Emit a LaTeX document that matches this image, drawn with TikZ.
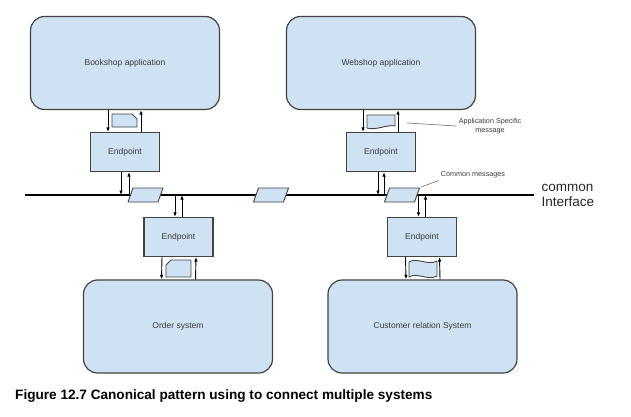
\documentclass[tikz,border=0pt]{standalone}
\usepackage{fontspec}
\setmainfont{Liberation Sans}
\usetikzlibrary{arrows.meta,positioning}
\definecolor{boxblue}{HTML}{CFE2F3}
\definecolor{boxline}{HTML}{434343}
\definecolor{txtgray}{HTML}{3A3A3A}

\begin{document}
\begin{tikzpicture}[x=1pt,y=-1pt,
                    >={Latex[length=4.5pt,width=3.5pt]},
                    app/.style={draw=boxline, line width=1.2pt, fill=boxblue, rounded corners=14pt,
                                minimum width=189pt, minimum height=93pt, text=txtgray,
                                font=\fontsize{8.5}{10}\selectfont},
                    endpt/.style={draw=boxline, line width=1.1pt, fill=boxblue,
                                  minimum width=69pt, minimum height=39pt, text=txtgray,
                                  font=\fontsize{8.5}{10}\selectfont},
                    flow/.style={->, line width=0.9pt, black},
                    msg/.style={draw=boxline, line width=0.9pt, fill=boxblue, line join=round},
                    bus/.style={line width=2.2pt, black},
                    note/.style={text=txtgray, align=center, inner sep=2pt,
                                 font=\fontsize{7.2}{9}\selectfont},
                    leader/.style={gray, line width=0.7pt},
                   ]

\useasboundingbox (0,0) rectangle (631,417);

% systems
\node[app] (book) at (125,63) {Bookshop application};
\node[app] (web) at (381,63) {Webshop application};
\node[app] (order) at (178,326.5) {Order system};
\node[app] (crm) at (422.5,326.5) {Customer relation System};

% endpoints
\node[endpt] (epbook) at (125,152) {Endpoint};
\node[endpt] (epweb) at (381,152) {Endpoint};
\node[endpt] (eporder) at (178.5,237) {Endpoint};
\node[endpt] (epcrm) at (422,237) {Endpoint};

% the common bus
\coordinate (busL) at (25,195);
\coordinate (busR) at (534,195);
\draw[bus] (busL) -- (busR);

% application <-> endpoint
\draw[flow] ([xshift=-17pt]book.south) -- ([xshift=-17pt]epbook.north);
\draw[flow] ([xshift=16pt]epbook.north) -- ([xshift=16pt]book.south);
\draw[flow] ([xshift=-18pt]web.south) -- ([xshift=-18pt]epweb.north);
\draw[flow] ([xshift=17pt]epweb.north) -- ([xshift=17pt]web.south);
\draw[flow] ([xshift=-16.5pt]eporder.south) -- ([xshift=-16.5pt]order.north);
\draw[flow] ([xshift=17.5pt]order.north) -- ([xshift=17.5pt]eporder.south);
\draw[flow] ([xshift=-16.5pt]epcrm.south) -- ([xshift=-16.5pt]crm.north);
\draw[flow] ([xshift=17.5pt]crm.north) -- ([xshift=17.5pt]epcrm.south);

% endpoint <-> bus
\draw[flow] ([xshift=-4pt]epbook.south) -- ([xshift=-4pt]epbook.south |- busL);
\draw[flow] ([xshift=4pt]epbook.south |- busL) -- ([xshift=4pt]epbook.south);
\draw[flow] ([xshift=-3pt]epweb.south) -- ([xshift=-3pt]epweb.south |- busL);
\draw[flow] ([xshift=3pt]epweb.south |- busL) -- ([xshift=3pt]epweb.south);
\draw[flow] ([xshift=-3.5pt]eporder.north |- busL) -- ([xshift=-3.5pt]eporder.north);
\draw[flow] ([xshift=3.5pt]eporder.north) -- ([xshift=3.5pt]eporder.north |- busL);
\draw[flow] ([xshift=-3.5pt]epcrm.north |- busL) -- ([xshift=-3.5pt]epcrm.north);
\draw[flow] ([xshift=3.5pt]epcrm.north) -- ([xshift=3.5pt]epcrm.north |- busL);

% common messages on the bus
\foreach \px in {145.5,271,402}
  \draw[msg] (\px,195) ++(-17.5,7) -- ++(5,-14) -- ++(30,0) -- ++(-5,14) -- cycle;

% application specific messages
\draw[msg] (112,114) -- (132,114) -- (137,119) -- (137,127) -- (112,127) -- cycle;
\draw[msg] (166,265) -- (171,260) -- (191,260) -- (191,277) -- (166,277) -- cycle;
\draw[msg] (367,115) -- (395,115) -- (395,126)
  .. controls (388,124) and (375,131) .. (367,128) -- cycle;
\draw[msg] (409,262) .. controls (417,257) and (428,266) .. (437,261) -- (437,276)
  .. controls (428,281) and (417,272) .. (409,277) -- cycle;

% notes
\node[note] (appmsg) at (490,126) {Application Specific\\message};
\node[note] (cmsg) at (473,175) {Common messages};
\coordinate (ldA) at (407,123);
\coordinate (ldB) at (421,187);
\draw[leader] (ldA) -- (appmsg.west);
\draw[leader] (ldB) -- (cmsg.south west);

\node[anchor=west, align=left, font=\fontsize{13.5}{15}\selectfont, text=black!85] (iface)
  at (538,195.5) {common\\Interface};

\node[anchor=west, inner sep=0pt, font=\bfseries\fontsize{13.6}{15}\selectfont] (cap)
  at (15,396) {Figure 12.7 Canonical pattern using to connect multiple systems};

\end{tikzpicture}
\end{document}
